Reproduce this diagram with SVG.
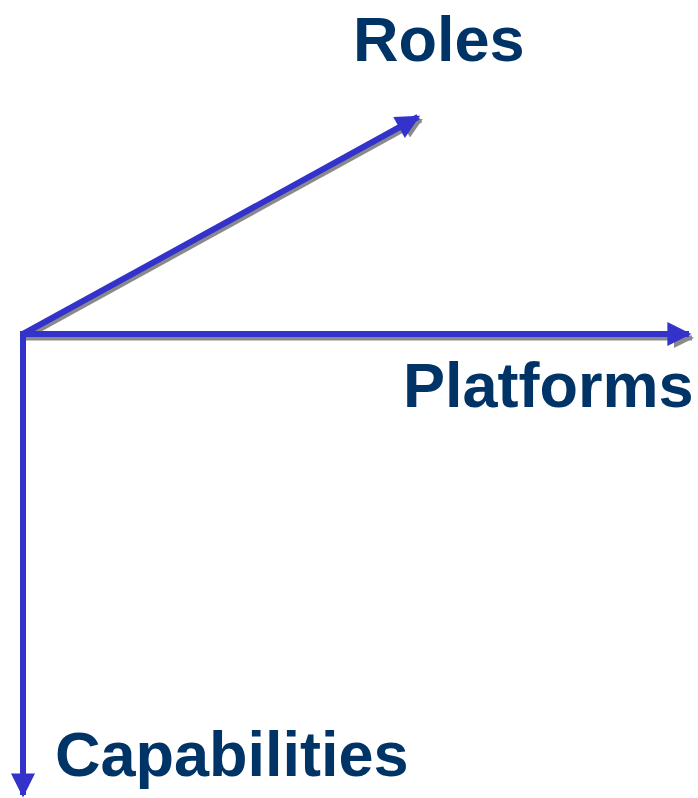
<svg xmlns="http://www.w3.org/2000/svg" width="698" height="798" viewBox="0 0 698 798">
<style>
.lbl{font-family:"Liberation Sans",Arial,sans-serif;font-weight:bold;font-size:63px;fill:#003366}
.ax{stroke:#3333CC;stroke-width:6;fill:none}
.sh{stroke:#8a8a8a;stroke-width:5;fill:none}
</style>
<defs>
<marker id="head" viewBox="0 0 10 10" refX="9" refY="5" markerWidth="4.2" markerHeight="4" markerUnits="strokeWidth" orient="auto">
<path d="M0,0 L10,5 L0,10 Z" fill="#3333CC"/>
</marker>
<marker id="headsh" viewBox="0 0 10 10" refX="9" refY="5" markerWidth="4.2" markerHeight="4" markerUnits="strokeWidth" orient="auto">
<path d="M0,0 L10,5 L0,10 Z" fill="#8a8a8a"/>
</marker>
</defs>
<g id="connectors">
<g id="shadows">
<line class="sh" x1="26" y1="337" x2="421" y2="120" marker-end="url(#headsh)"/>
<line class="sh" x1="26" y1="338" x2="692" y2="338" marker-end="url(#headsh)"/>
</g>
<line class="ax" x1="23" y1="334" x2="418" y2="117" marker-end="url(#head)"/>
<line class="ax" x1="20" y1="334" x2="689" y2="334" marker-end="url(#head)"/>
<line class="ax" x1="23" y1="331" x2="23" y2="795" marker-end="url(#head)"/>
</g>
<g id="roles"><text class="lbl" x="353" y="61">Roles</text></g>
<g id="platforms"><text class="lbl" x="403" y="407">Platforms</text></g>
<g id="capabilities"><text class="lbl" x="55" y="776">Capabilities</text></g>
</svg>
